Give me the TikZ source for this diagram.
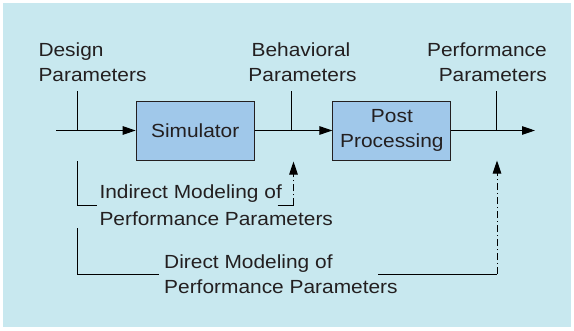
\documentclass[tikz,border=0pt]{standalone}
\usepackage{fontspec}
\setmainfont{Liberation Sans}[FakeStretch=1.1]
\usetikzlibrary{arrows.meta}
\definecolor{bgblue}{HTML}{C8E8EF}
\definecolor{boxblue}{HTML}{A0C8EA}
\definecolor{ink}{HTML}{231F20}
\begin{document}
\begin{tikzpicture}[x=1pt,y=-1pt,
  txt/.style={font=\fontsize{19}{25}\selectfont, text=ink, inner sep=0pt},
  proc/.style={draw=ink, line width=1pt, fill=boxblue, minimum width=118pt, minimum height=59pt, inner sep=0pt, align=center, font=\fontsize{19}{25}\selectfont, text=ink},
  flow/.style={line width=1pt, draw=black},
  arr/.style={-{Triangle[length=13pt,width=8.5pt]}},
  dashdot/.style={dash pattern=on 7pt off 3pt on 1pt off 3pt}]
\useasboundingbox (0,0) rectangle (574,330);
\fill[white] (0,0) rectangle (574,330);
\fill[bgblue] (3,3) rectangle (571,327);

% process boxes
\node[proc] (sim) at (195.2,130.5) {Simulator};
\node[proc] (post) at (391.9,130.5) {Post\\Processing};

% main flow
\coordinate (in) at (56,130.5);
\coordinate (out) at (535,130.5);
\draw[flow,arr] (in) -- (sim.west);
\draw[flow,arr] (sim.east) -- (post.west);
\draw[flow,arr] (post.east) -- (out);

% parameter ticks
\coordinate (dtop) at (77,91);   \coordinate (dj) at (77,130.5);
\coordinate (btop) at (291,91);  \coordinate (bj) at (291,130.5);
\coordinate (ptop) at (496,91);  \coordinate (pj) at (496,130.5);
\draw[flow] (dtop) -- (dj);
\draw[flow] (btop) -- (bj);
\draw[flow] (ptop) -- (pj);

% top labels
\node[txt, anchor=base west] (des1) at (38.3,56) {Design};
\node[txt, anchor=base west] (des2) at (38.3,81) {Parameters};
\node[txt, anchor=base] (beh1) at (301,56.5) {Behavioral};
\node[txt, anchor=base] (beh2) at (302.5,81.5) {Parameters};
\node[txt, anchor=base east] (per1) at (547,56) {Performance};
\node[txt, anchor=base east] (per2) at (547,81) {Parameters};

% indirect modeling
\coordinate (i1) at (77,161);
\coordinate (i2) at (77,205.3);
\coordinate (i3) at (96.7,205.3);
\coordinate (i4) at (277.7,205.3);
\coordinate (i5) at (293.5,205.3);
\coordinate (itip) at (293.5,161.5);
\draw[flow] (i1) -- (i2) -- (i3);
\draw[flow] (i4) -- (i5);
\draw[flow,dashdot,arr] (i5) -- (itip);
\node[txt, anchor=base west] (ind1) at (99.3,198.3) {Indirect Modeling of};
\node[txt, anchor=base west] (ind2) at (99.3,225) {Performance Parameters};

% direct modeling
\coordinate (d1) at (77,228);
\coordinate (d2) at (77,274);
\coordinate (d3) at (159,274);
\coordinate (d4) at (378,274);
\coordinate (d5) at (497,274);
\coordinate (dtip) at (497,160.5);
\draw[flow] (d1) -- (d2) -- (d3);
\draw[flow] (d4) -- (d5);
\draw[flow,dashdot,arr] (d5) -- (dtip);
\node[txt, anchor=base west] (dir1) at (164,268.3) {Direct Modeling of};
\node[txt, anchor=base west] (dir2) at (164,293.3) {Performance Parameters};
\end{tikzpicture}
\end{document}
